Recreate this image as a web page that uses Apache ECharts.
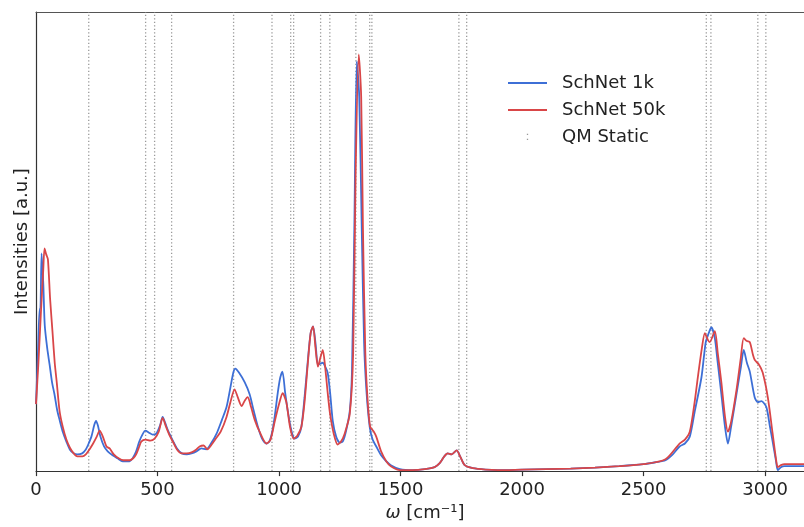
<!DOCTYPE html>
<html>
<head>
<meta charset="utf-8">
<script src="https://cdn.jsdelivr.net/npm/echarts@6/dist/echarts.min.js"></script>
<style>
html,body{margin:0;padding:0;background:#fff;}
#chart{width:804px;height:527px;}
</style>
</head>
<body>
<div id="chart"></div>
<script>
// ---- data (wavenumber in cm^-1, intensity in arbitrary units) ----
const schnet1kX = [0,8,15,18,23,30,36,46,56,66,76,87,97,110,125,139,155,170,190,205,215,228,240,247,255,265,280,295,315,335,357,385,400,412,425,440,450,465,480,495,510,521,530,545,563,580,600,620,640,660,680,700,720,743,765,784,800,812,820,835,859,879,895,913,930,948,960,972,982,995,1005,1014,1025,1036,1050,1064,1078,1092,1105,1118,1130,1140,1150,1160,1170,1180,1190,1200,1210,1221,1235,1250,1262,1275,1291,1300,1310,1320,1330,1340,1350,1360,1373,1385,1400,1420,1441,1460,1497,1550,1600,1640,1661,1680,1694,1710,1731,1745,1764,1797,1850,1900,2000,2100,2200,2300,2400,2500,2550,2590,2620,2648,2670,2690,2710,2738,2755,2765,2779,2793,2805,2820,2835,2847,2860,2882,2900,2912,2925,2937,2957,2970,2985,3005,3020,3031,3045,3052,3065,3080,3160];
const schnet1kY = [68,120,165,165,221,190,148,125,108,90,78,62,52,40,30,22,18,17,18,22,27,35,47,51,46,35,25,20,16,13,10,10,14,20,30,38,41,39,37,38,46,55,50,40,31,23,18,17,18,20,23,22,28,38,52,65,85,100,104,100,90,78,62,45,33,28,30,40,55,80,95,101,80,61,42,33,35,45,75,111,140,147,130,108,109,110,106,100,80,51,35,29,30,40,61,100,250,416,380,250,130,80,45,32,25,16,10,6,2,1,2,4,8,15,18,17,21,15,6,3,1.5,1,1.5,2,2.5,3.5,5,7,9,11,17,25,28,35,60,95,130,138,146,135,110,78,45,28,45,78,105,123,110,101,75,70,71,65,45,30,10,1,4,5,5];

const schnet50kX = [0,10,20,30,35,42,49,58,68,77,85,97,110,125,139,155,170,191,205,220,235,250,262,275,290,303,320,340,360,385,400,412,425,433,450,470,488,505,521,535,550,563,580,600,620,640,660,673,690,705,720,743,760,784,800,817,830,846,860,871,885,900,920,948,965,982,1000,1015,1030,1045,1060,1075,1092,1105,1118,1130,1140,1150,1160,1170,1180,1190,1200,1210,1225,1241,1255,1270,1291,1305,1315,1328,1338,1345,1355,1365,1375,1390,1400,1420,1441,1460,1497,1550,1600,1640,1661,1680,1694,1710,1731,1745,1764,1797,1850,1900,2000,2100,2200,2300,2400,2500,2590,2648,2670,2690,2710,2723,2740,2752,2765,2772,2793,2805,2820,2835,2847,2860,2882,2900,2912,2925,2937,2950,2957,2975,2990,3011,3031,3045,3052,3065,3080,3160];
const schnet50kY = [68,110,160,205,226,220,215,175,141,110,91,61,45,32,24,18,15,15,17,22,28,35,41,35,25,23,17,13,11,11,13,17,25,30,32,31,33,40,54,45,36,30,22,18,18,19,22,25,26,22,26,34,40,55,70,83,75,66,72,75,65,52,40,28,32,50,68,79,70,45,33,36,45,70,108,140,147,125,106,115,123,105,80,58,38,27,30,38,58,120,300,423,380,250,120,70,45,40,35,20,10,5,1,1,2,4,8,15,18,17,21,15,6,3,1.5,1,1.5,2,2.5,3.5,5,7,12,28,32,40,70,95,125,140,133,131,142,120,90,55,40,50,82,115,135,132,131,118,113,108,100,75,38,12,4,6,7,7];

const qmStaticLines = [217,451,488,558,813,971,1048,1060,1171,1209,1316,1373,1382,1740,1772,2758,2777,2970,3003];

const xTicksMin = 0, xTicksMax = 3160, xTickStep = 500;
const yMax = 466;

// ---- build series ----
const zip = (xs, ys) => xs.map((x, i) => [x, ys[i]]);
const qmData = [];
qmStaticLines.forEach(x => { qmData.push([x, 0], [x, yMax], [x, '-']); });

const font = 'DejaVu Sans';
const blue = '#3d6fd6', red = '#d94648';
const lineIcon = 'path://M0,0h39v1.8h-39z';
// two tiny dots inside a 14-unit tall invisible box (zero-area subpaths set the bounds)
const dotsIcon = 'path://M0,0L0,0Z M0,14L0,14Z M-0.6,3.8h1.3v1.3h-1.3z M-0.6,8.8h1.3v1.3h-1.3z';
const chart = echarts.init(document.getElementById('chart'), null, {renderer: 'canvas'});
chart.setOption({
  animation: false,
  backgroundColor: '#ffffff',
  grid: {left: 36, right: 0, top: 12, bottom: 49, containLabel: false},
  legend: {
    left: 503, top: 69, orient: 'vertical',
    itemWidth: 39, itemHeight: 14, itemGap: 9,
    textStyle: {fontFamily: font, fontSize: 18, color: '#222', padding: [0, 0, 0, 10]},
    data: [
      {name: 'SchNet 1k', icon: lineIcon, itemStyle: {color: blue}},
      {name: 'SchNet 50k', icon: lineIcon, itemStyle: {color: red}},
      {name: 'QM Static', icon: dotsIcon, itemStyle: {color: '#999'}}
    ]
  },
  xAxis: [{
    type: 'value', min: xTicksMin, max: xTicksMax, interval: xTickStep,
    position: 'bottom',
    axisLine: {show: true, lineStyle: {color: '#333', width: 1.2}},
    axisTick: {show: true, inside: false, length: 5, lineStyle: {color: '#333', width: 1.2}},
    axisLabel: {fontFamily: font, fontSize: 18, color: '#222', margin: 10, showMaxLabel: false,
      formatter: v => String(v)},
    splitLine: {show: false},
    name: '{i|ω} [cm⁻¹]', nameLocation: 'middle', nameGap: 31,
    nameTextStyle: {fontFamily: font, fontSize: 18, color: '#222', padding: [0, 0, 0, 10],
      rich: {i: {fontFamily: font, fontSize: 18, fontStyle: 'italic', color: '#222'}}}
  }, {
    type: 'value', min: xTicksMin, max: xTicksMax, position: 'top',
    axisLine: {show: true, onZero: false, lineStyle: {color: '#555', width: 1.2}},
    axisTick: {show: false}, axisLabel: {show: false}, splitLine: {show: false}
  }],
  yAxis: {
    type: 'value', min: 0, max: yMax,
    axisLine: {show: true, lineStyle: {color: '#333', width: 1.2}},
    axisTick: {show: false}, axisLabel: {show: false}, splitLine: {show: false},
    name: 'Intensities [a.u.]', nameLocation: 'middle', nameGap: 5,
    nameTextStyle: {fontFamily: font, fontSize: 18, color: '#222'}
  },
  series: [
    {
      name: 'QM Static', type: 'line', data: qmData, symbol: 'none', symbolKeepAspect: true,
      connectNulls: false, silent: true,
      itemStyle: {color: '#999'},
      lineStyle: {color: '#999', width: 1.3, type: [1.3, 2.2]}, z: 1
    },
    {
      name: 'SchNet 1k', type: 'line', data: zip(schnet1kX, schnet1kY), symbol: 'none', smooth: 0.25,
      symbolKeepAspect: true,
      itemStyle: {color: blue}, lineStyle: {color: blue, width: 1.8}, z: 2
    },
    {
      name: 'SchNet 50k', type: 'line', data: zip(schnet50kX, schnet50kY), symbol: 'none', smooth: 0.25,
      symbolKeepAspect: true,
      itemStyle: {color: red}, lineStyle: {color: red, width: 1.8}, z: 3
    }
  ]
});
</script>
</body>
</html>
